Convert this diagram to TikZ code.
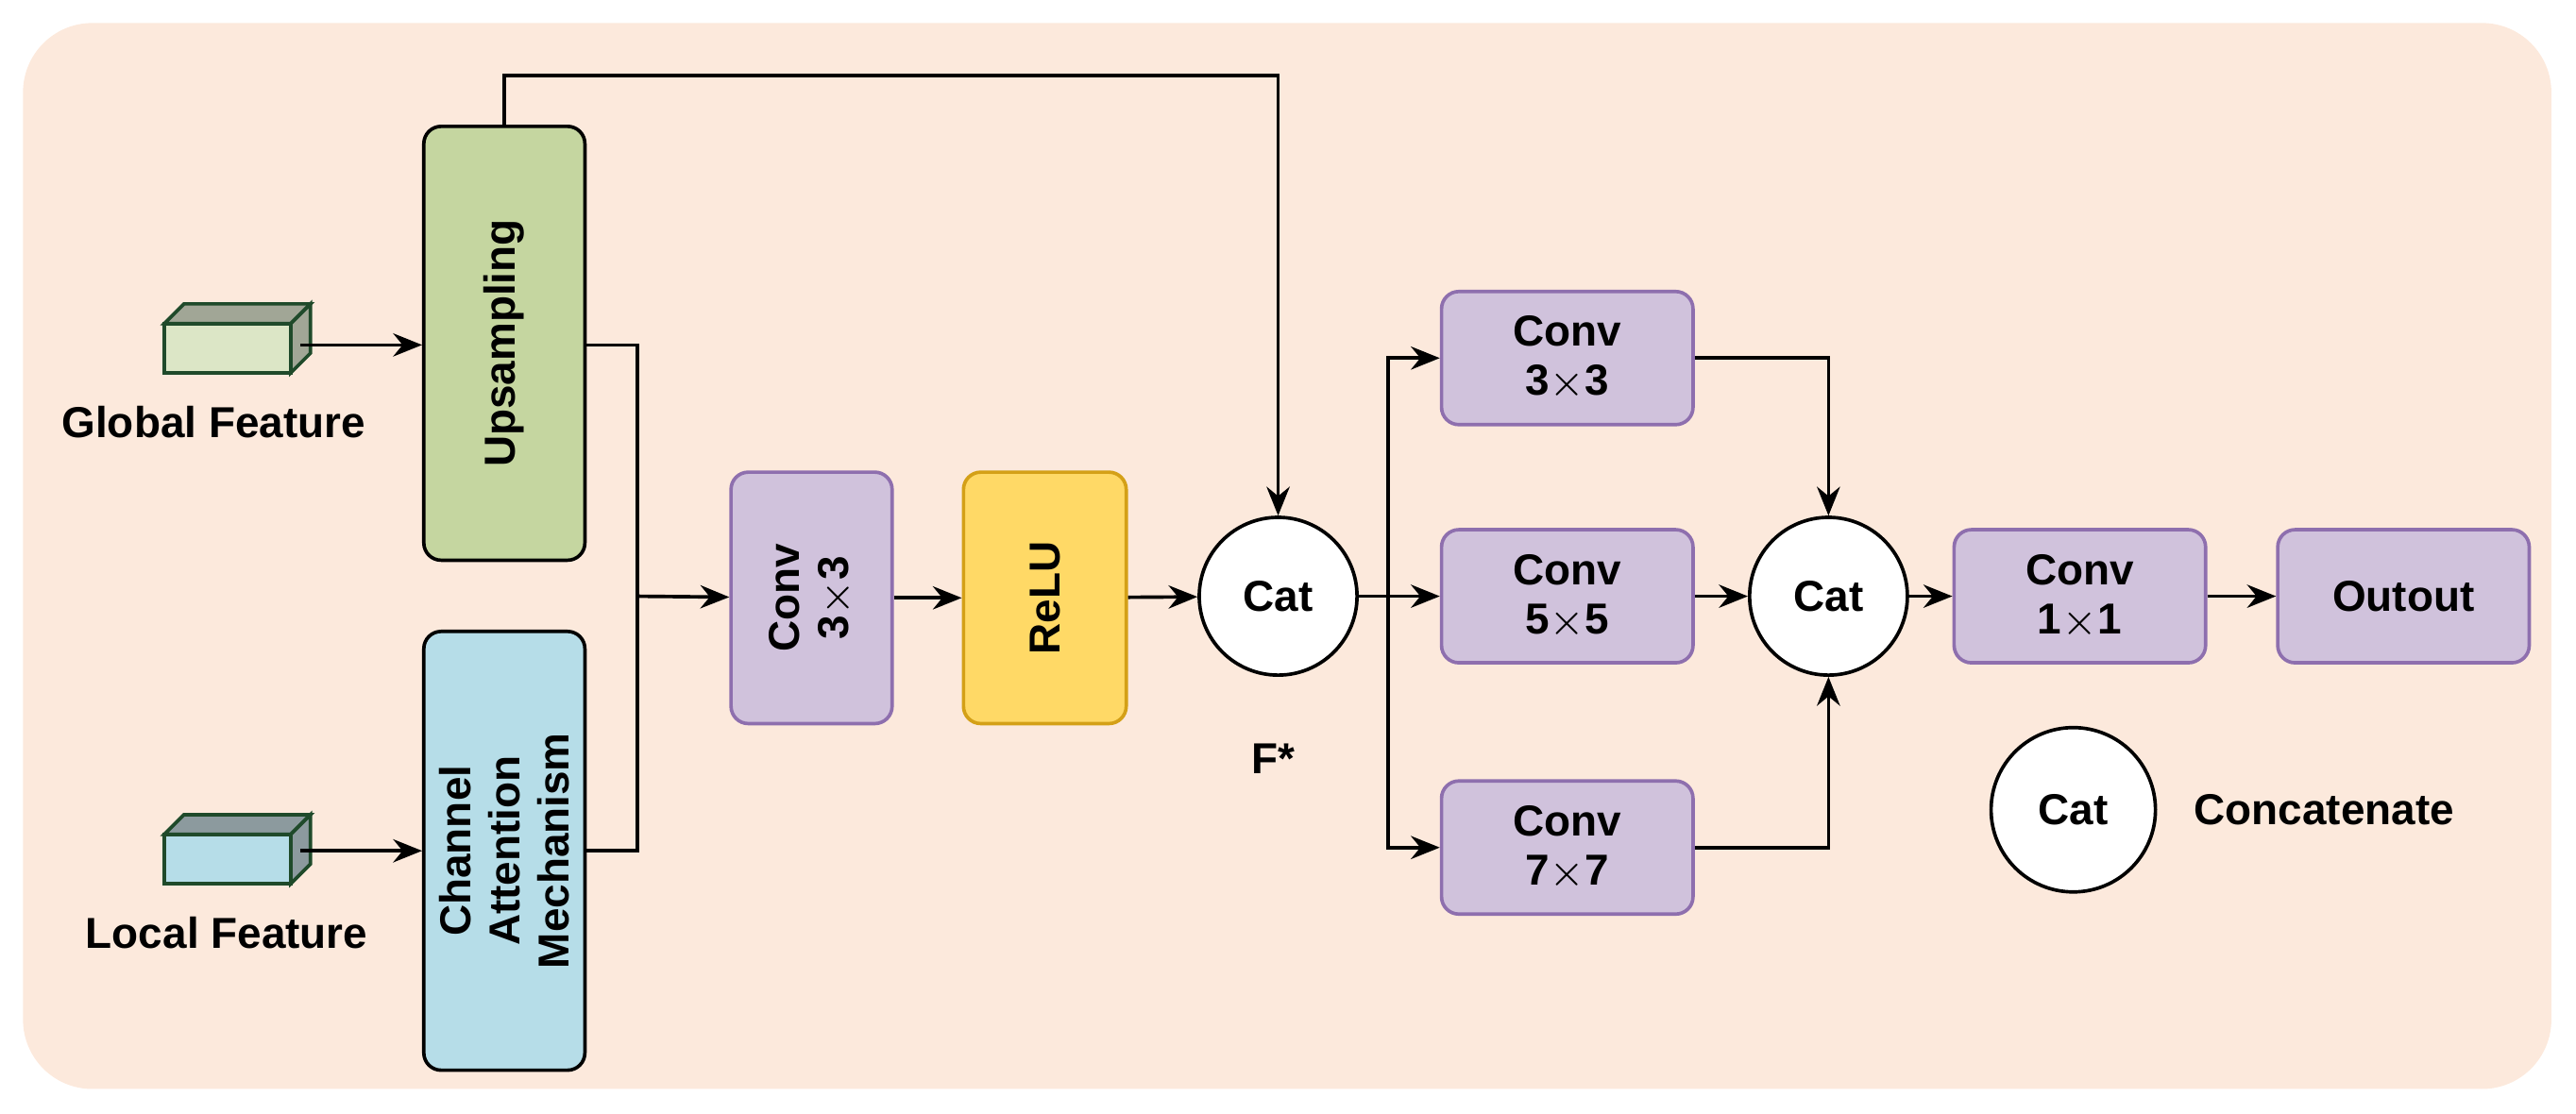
\documentclass[tikz,border=0pt]{standalone}
\usepackage{fontspec}
\setmainfont{Liberation Sans}
\usetikzlibrary{arrows.meta,positioning}
\definecolor{bgcol}{HTML}{FCE9DC}
\definecolor{upcol}{HTML}{C5D6A0}
\definecolor{cacol}{HTML}{B6DDE8}
\definecolor{convcol}{HTML}{D0C2DC}
\definecolor{convline}{HTML}{8E6FAE}
\definecolor{relucol}{HTML}{FFD966}
\definecolor{reluline}{HTML}{D4A017}
\definecolor{boxline}{HTML}{1F4A2A}
\tikzset{
  every node/.style={font=\fontsize{7.5}{8.5}\selectfont\bfseries},
  blk/.style={draw, rounded corners=3pt, line width=0.6pt, align=center, inner sep=0pt},
  conv/.style={blk, draw=convline, fill=convcol, minimum width=1.53cm, minimum height=0.81cm},
  cat/.style={circle, draw, fill=white, line width=0.6pt, minimum size=0.96cm, inner sep=0pt},
  arr/.style={-{Stealth[length=5pt,width=4pt]}, line width=0.6pt},
  ln/.style={line width=0.6pt}
}
\begin{document}
\begin{tikzpicture}[x=0.01cm, y=-0.01cm]
\useasboundingbox (0,0) rectangle (1568,678);
\fill[bgcol, rounded corners=12pt] (14,14) rectangle (1553,663);

% input feature blocks
\filldraw[fill=upcol!60!white, draw=boxline, line width=0.6pt] (100,197) rectangle (177,227);
\filldraw[fill=upcol!50!black!60!white, draw=boxline, line width=0.6pt] (100,197) -- (112,185) -- (189,185) -- (177,197) -- cycle;
\filldraw[fill=upcol!50!black!60!white, draw=boxline, line width=0.6pt] (177,197) -- (189,185) -- (189,215) -- (177,227) -- cycle;
\coordinate (gf) at (183,210);
\node (gft) at (130,257) {Global Feature};
\filldraw[fill=cacol, draw=boxline, line width=0.6pt] (100,508) rectangle (177,538);
\filldraw[fill=cacol!50!black!70!white, draw=boxline, line width=0.6pt] (100,508) -- (112,496) -- (189,496) -- (177,508) -- cycle;
\filldraw[fill=cacol!50!black!70!white, draw=boxline, line width=0.6pt] (177,508) -- (189,496) -- (189,526) -- (177,538) -- cycle;
\coordinate (lf) at (183,518);
\node (lft) at (138,568) {Local Feature};

% blocks
\node[blk, fill=upcol, minimum width=0.98cm, minimum height=2.64cm] (up) at (307,209) {};
\node[rotate=90] at (up) {Upsampling};
\node[blk, fill=cacol, minimum width=0.98cm, minimum height=2.67cm] (cam) at (307,518) {};
\node[rotate=90, align=center] at (cam) {Channel\\Attention\\Mechanism};
\node[blk, draw=convline, fill=convcol, minimum width=0.98cm, minimum height=1.53cm] (c1) at (494,364) {};
\node[rotate=90, align=center] at (c1) {Conv\\3$\times$3};
\node[blk, draw=reluline, fill=relucol, minimum width=0.99cm, minimum height=1.53cm] (relu) at (636,364) {};
\node[rotate=90] at (relu) {ReLU};
\node[cat] (cat1) at (778,363) {Cat};
\node (fs) at (775,462) {F*};
\node[conv] (c3) at (954,218) {Conv\\3$\times$3};
\node[conv] (c5) at (954,363) {Conv\\5$\times$5};
\node[conv] (c7) at (954,516) {Conv\\7$\times$7};
\node[cat] (cat2) at (1113,363) {Cat};
\node[conv] (c11) at (1266,363) {Conv\\1$\times$1};
\node[conv] (out) at (1463,363) {Outout};
\node[cat, minimum size=1cm] (leg) at (1262,493) {Cat};
\node[right=0.1cm of leg] (legt) {Concatenate};

% connectors
\coordinate (m) at (388,363);
\coordinate (s) at (845,363);
\draw[arr] (gf) -- (gf -| up.west);
\draw[arr] (lf) -- (lf -| cam.west);
\draw[ln] (up.east |- gf) -| (m);
\draw[ln] (cam.east |- lf) -| (m);
\draw[arr] (m) -- (c1);
\draw[arr] (c1) -- (relu);
\draw[arr] (relu) -- (cat1);
\draw[arr] (up.north) -- ++(0,-30) -| (cat1.north);
\draw[ln] (cat1) -- (s);
\draw[arr] (s) |- (c3);
\draw[arr] (s) -- (c5);
\draw[arr] (s) |- (c7);
\draw[arr] (c3) -| (cat2);
\draw[arr] (c5) -- (cat2);
\draw[arr] (c7) -| (cat2);
\draw[arr] (cat2) -- (c11);
\draw[arr] (c11) -- (out);
\end{tikzpicture}
\end{document}
